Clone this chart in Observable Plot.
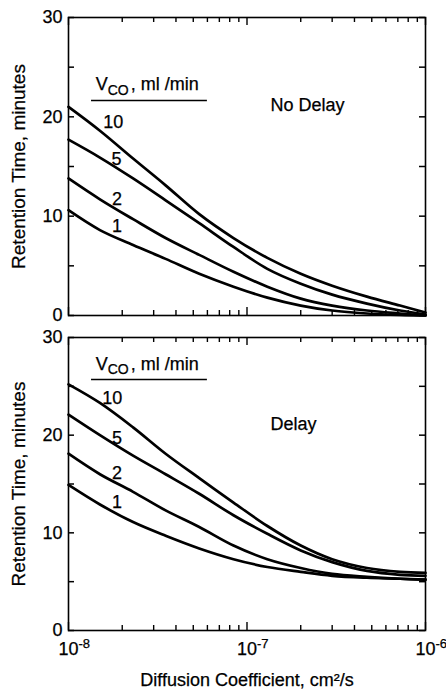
<!DOCTYPE html>
<html>
<head>
<meta charset="utf-8">
<script src="https://cdn.jsdelivr.net/npm/d3@7"></script>
<script src="https://cdn.jsdelivr.net/npm/@observablehq/plot@0.6"></script>
<style>
  html, body { margin: 0; padding: 0; background: #fff; }
  #chart { width: 446px; }
  #chart svg { display: block; }
  #chart svg text { stroke: black; stroke-width: 0.25px; }
</style>
</head>
<body>
<div id="chart"></div>
<script>
// ---- data ----
const diffusion = [1e-8, 1.5e-8, 2.3e-8, 3.5e-8, 5.4e-8, 8.4e-8, 1.3e-7, 2e-7, 3e-7, 4.7e-7, 7.2e-7, 1e-6];
const flowRates = ["10", "5", "2", "1"];

const noDelay10 = [21.0, 18.6, 15.8, 13.1, 10.2, 7.8, 5.8, 4.2, 3.0, 1.9, 1.0, 0.3];
const noDelay5  = [17.7, 15.9, 13.8, 11.6, 9.3, 6.9, 4.7, 3.2, 2.1, 1.2, 0.5, 0.1];
const noDelay2  = [13.8, 11.7, 9.7, 7.8, 6.1, 4.4, 2.9, 1.7, 1.0, 0.5, 0.2, 0];
const noDelay1  = [10.6, 8.6, 7.1, 5.7, 4.2, 2.9, 1.8, 1.0, 0.5, 0.2, 0.05, 0];

const delay10 = [25.2, 23.3, 20.8, 18.1, 15.6, 13.1, 10.7, 8.7, 7.3, 6.4, 6.0, 5.9];
const delay5  = [22.1, 20.0, 17.9, 16.0, 14.0, 11.8, 9.9, 8.2, 7.0, 6.1, 5.7, 5.6];
const delay2  = [18.1, 16.0, 14.2, 12.3, 10.6, 8.7, 7.3, 6.4, 5.8, 5.5, 5.3, 5.2];
const delay1  = [14.9, 12.9, 11.1, 9.7, 8.4, 7.3, 6.5, 6.0, 5.6, 5.4, 5.3, 5.2];

// curve label anchors (data coords)
const labelXNoDelay = [1.78e-8, 1.86e-8, 1.87e-8, 1.87e-8];
const labelYNoDelay = [19.5, 15.7, 11.7, 9.0];
const labelXDelay = [1.76e-8, 1.87e-8, 1.87e-8, 1.87e-8];
const labelYDelay = [23.8, 19.7, 16.1, 13.1];

const yMajor = [0, 10, 20, 30];
const yMinor = [5, 15, 25];
const xMajor = [1e-8, 1e-7, 1e-6];
const xMinor = [2e-8,3e-8,4e-8,5e-8,6e-8,7e-8,8e-8,9e-8,2e-7,3e-7,4e-7,5e-7,6e-7,7e-7,8e-7,9e-7];
const xTickBase = ["10", "10", "10"];
const xTickExponent = ["-8", "-7", "-6"];

const yLabel = "Retention Time, minutes";
const xLabel = "Diffusion Coefficient, cm\u00B2/s";
const panelTitles = ["No Delay", "Delay"];
const headerParts = ["V", "CO", ", ml /min"];

// ---- helpers ----
function rows(series) {
  const out = [];
  series.forEach((vals, i) => vals.forEach((v, j) => out.push({flow: flowRates[i], D: diffusion[j], t: v})));
  return out;
}

const font = "'Liberation Sans', Arial, Helvetica, sans-serif";
const W = 446, ML = 68, MR = 21;
const FW = W - ML - MR;
const X0 = 1e-8, X1 = 1e-6, Y0 = 0, Y1 = 30;

function panel({series, labelX, labelY, title, header, titlePos, bottom}) {
  const H = bottom ? 368 : 326, MT = bottom ? 11 : 17, MB = bottom ? 64 : 11;
  const FH = H - MT - MB;
  // tick lengths (pixels) expressed along each scale
  const xLen = px => Math.pow(10, px * Math.log10(X1 / X0) / FW);
  const yLen = px => px * (Y1 - Y0) / FH;
  const data = rows(series);
  const labels = flowRates.map((f, i) => ({f, x: labelX[i], y: labelY[i]}));
  const yTicks = yMajor.concat(yMinor);
  const xTicks = xMajor.map(v => ({v, len: 8})).concat(xMinor.map(v => ({v, len: 5})));
  const marks = [
    Plot.frame({strokeWidth: 1.6}),
    // inward ticks: y (left & right), x (bottom & top)
    Plot.ruleY(yTicks, {y: d => d, x1: X0, x2: X0 * xLen(6), strokeWidth: 1.5}),
    Plot.ruleY(yTicks, {y: d => d, x1: X1 / xLen(6), x2: X1, strokeWidth: 1.5}),
    Plot.ruleX(xTicks, {x: "v", y1: Y0, y2: d => Y0 + yLen(d.len), strokeWidth: 1.4}),
    Plot.ruleX(xTicks, {x: "v", y1: d => Y1 - yLen(d.len), y2: Y1, strokeWidth: 1.4}),
    Plot.line(data, {x: "D", y: "t", z: "flow", stroke: "black", strokeWidth: 2.7, curve: "catmull-rom"}),
    Plot.text(labels, {x: "x", y: "y", text: "f", fontSize: 18}),
    // legend header: V_CO, ml /min
    Plot.text([headerParts[0]], {x: () => header.x, y: () => header.y, text: d => d, textAnchor: "start", fontSize: 18}),
    Plot.text([headerParts[1]], {x: () => header.x, y: () => header.y, text: d => d, textAnchor: "start", fontSize: 14, dx: 12, dy: 6}),
    Plot.text([headerParts[2]], {x: () => header.x, y: () => header.y, text: d => d, textAnchor: "start", fontSize: 18, dx: 35}),
    Plot.ruleY([header.rule], {x1: header.x1, x2: header.x2, strokeWidth: 1.6}),
    Plot.text([title], {x: () => titlePos.x, y: () => titlePos.y, text: d => d, textAnchor: "start", fontSize: 18}),
    // y tick labels and axis title
    Plot.axisY(yMajor, {anchor: "left", tickSize: 0, tickPadding: 6, label: null}),
    Plot.text([yLabel], {frameAnchor: "left", text: d => d, rotate: -90, textAnchor: "middle", dx: -50, fontSize: 19})
  ];
  if (bottom) {
    marks.push(Plot.text(xMajor, {x: d => d, frameAnchor: "bottom", text: (d, i) => xTickBase[i], dy: 24, fontSize: 18}));
    marks.push(Plot.text(xMajor, {x: d => d, frameAnchor: "bottom", text: (d, i) => xTickExponent[i], textAnchor: "start", dx: 10, dy: 17, fontSize: 13}));
    marks.push(Plot.text([xLabel], {frameAnchor: "bottom", text: d => d, dy: 55, fontSize: 18}));
  }
  return Plot.plot({
    width: W,
    height: H,
    marginTop: MT,
    marginBottom: MB,
    marginLeft: ML,
    marginRight: MR,
    style: {fontFamily: font, fontSize: "18px", color: "black", background: "white", overflow: "visible"},
    x: {type: "log", domain: [X0, X1], axis: null},
    y: {domain: [Y0, Y1]},
    marks
  });
}

const chart = document.getElementById("chart");
chart.append(panel({
  series: [noDelay10, noDelay5, noDelay2, noDelay1],
  labelX: labelXNoDelay, labelY: labelYNoDelay,
  title: panelTitles[0],
  header: {x: 1.42e-8, y: 23.25, rule: 21.65, x1: 1.346e-8, x2: 6.0e-8},
  titlePos: {x: 1.355e-7, y: 21.15},
  bottom: false
}));
chart.append(panel({
  series: [delay10, delay5, delay2, delay1],
  labelX: labelXDelay, labelY: labelYDelay,
  title: panelTitles[1],
  header: {x: 1.42e-8, y: 27.3, rule: 25.7, x1: 1.346e-8, x2: 6.0e-8},
  titlePos: {x: 1.355e-7, y: 21.1},
  bottom: true
}));
</script>
</body>
</html>
